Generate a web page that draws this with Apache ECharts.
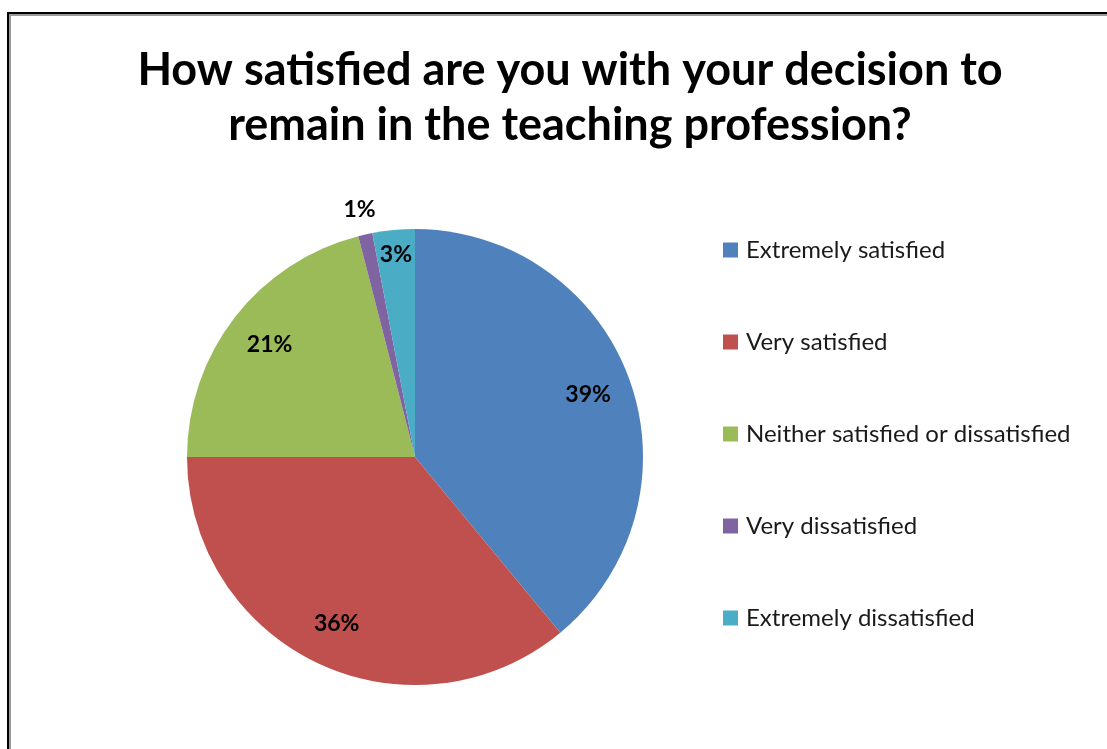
<!DOCTYPE html>
<html>
<head>
<meta charset="utf-8">
<script src="https://cdn.jsdelivr.net/npm/echarts@6/dist/echarts.min.js"></script>
<style>
  html, body { margin: 0; padding: 0; background: #fff; overflow: hidden; }
  #frame { position: absolute; left: 7px; top: 12px; width: 1200px; height: 800px;
           border-left: 2px solid #000; border-top: 2px solid #000;
           box-shadow: inset 2px 2px 0 0 #9a9a9a; }
  #chart { position: absolute; left: 0; top: 0; width: 1107px; height: 749px; }
</style>
</head>
<body>
<div id="frame"></div>
<div id="chart"></div>
<script>
const titleLines = ['How satisfied are you with your decision to', 'remain in the teaching profession?'];
const categories = ['Extremely satisfied', 'Very satisfied', 'Neither satisfied or dissatisfied', 'Very dissatisfied', 'Extremely dissatisfied'];
const values = [39, 36, 21, 1, 3];
const colors = ['#4F81BD', '#C0504D', '#9BBB59', '#8064A2', '#4BACC6'];

const innerLabelSet = ['Extremely satisfied', 'Very satisfied', 'Neither satisfied or dissatisfied'];
const nearEdgeLabelSet = ['Extremely dissatisfied'];
const outsideLabelSet = ['Very dissatisfied'];

const CENTER = [415, 457];
const R = 228;

function labelData(set) {
  return categories.map((n, i) => ({ name: n, value: values[i], label: { show: set.indexOf(n) >= 0 } }));
}
function labelSeries(set, radius) {
  return {
    type: 'pie', center: CENTER, radius: radius, startAngle: 90, clockwise: true,
    silent: true, animation: false, avoidLabelOverlap: false,
    itemStyle: { color: 'rgba(0,0,0,0)', borderWidth: 0 },
    label: { position: 'inside', color: '#000', fontFamily: 'Lato', fontWeight: 'bold', fontSize: 23,
             formatter: p => p.value + '%' },
    labelLine: { show: false },
    emphasis: { disabled: true },
    data: labelData(set)
  };
}

const chart = echarts.init(document.getElementById('chart'), null, { renderer: 'canvas' });
chart.setOption({
  animation: false,
  color: colors,
  title: {
    text: titleLines.join('\n'),
    left: 565, top: 38, textAlign: 'center',
    textStyle: { fontFamily: 'Lato', fontWeight: 'bold', fontSize: 45, lineHeight: 55, color: '#000' }
  },
  legend: {
    orient: 'vertical', left: 723, top: 237, padding: 0,
    itemWidth: 15, itemHeight: 15, itemGap: 66,
    icon: 'rect',
    selectedMode: false,
    textStyle: { fontFamily: 'Lato', fontSize: 24, lineHeight: 26, color: '#1a1a1a', padding: [0, 0, 0, 3] },
    data: categories
  },
  series: [
    {
      type: 'pie', center: CENTER, radius: R, startAngle: 90, clockwise: true,
      silent: true, avoidLabelOverlap: false,
      itemStyle: { borderWidth: 0 },
      label: { show: false }, labelLine: { show: false },
      emphasis: { disabled: true },
      data: categories.map((n, i) => ({ name: n, value: values[i] }))
    },
    labelSeries(innerLabelSet, [134, R]),
    labelSeries(nearEdgeLabelSet, [172, R]),
    labelSeries(outsideLabelSet, [238, 264])
  ]
});
</script>
</body>
</html>
